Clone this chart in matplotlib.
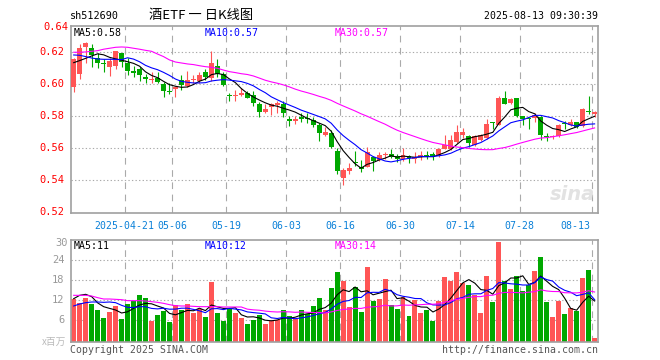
import numpy as np
import pandas as pd
import matplotlib
matplotlib.use('Agg')
import matplotlib.pyplot as plt

W, H = 660, 360

code = 'sh512690'
title = '酒ETF 一 日K线图'
timestamp = '2025-08-13 09:30:39'

holidays = ['2025-05-01', '2025-05-02', '2025-05-05', '2025-06-02']
dates = [d.strftime('%Y-%m-%d') for d in pd.bdate_range('2025-04-08', '2025-08-13')
         if d.strftime('%Y-%m-%d') not in holidays]

tick_dates = ['2025-04-21', '2025-05-06', '2025-05-19', '2025-06-03', '2025-06-16',
              '2025-06-30', '2025-07-14', '2025-07-28', '2025-08-13']
tick_labels = ['2025-04-21', '05-06', '05-19', '06-03', '06-16',
               '06-30', '07-14', '07-28', '08-13']

price_ticks = [0.52, 0.54, 0.56, 0.58, 0.60, 0.62]
price_top_label = '0.64'
vol_ticks = [6, 12, 18, 24, 30]

opens = [0.5981, 0.6062, 0.6235, 0.6225, 0.6162, 0.6129, 0.6110, 0.6116, 0.6194, 0.6131,
         0.6079, 0.6096, 0.6044, 0.6025, 0.6037, 0.6000, 0.5960, 0.5971, 0.6027, 0.5989,
         0.6027, 0.6023, 0.6079, 0.6041, 0.6114, 0.6064, 0.5929, 0.5929, 0.5935, 0.5948,
         0.5931, 0.5877, 0.5829, 0.5860, 0.5873, 0.5877, 0.5779, 0.5773, 0.5798, 0.5792,
         0.5777, 0.5746, 0.5683, 0.5694, 0.5585, 0.5415, 0.5460, 0.5514, 0.5481, 0.5485,
         0.5548, 0.5527, 0.5558, 0.5562, 0.5554, 0.5531, 0.5552, 0.5531, 0.5548, 0.5556,
         0.5566, 0.5550, 0.5596, 0.5596, 0.5642, 0.5683, 0.5677, 0.5621, 0.5652, 0.5662,
         0.5764, 0.5746, 0.5912, 0.5881, 0.5917, 0.5802, 0.5785, 0.5787, 0.5794, 0.5677,
         0.5669, 0.5677, 0.5756, 0.5746, 0.5764, 0.5740, 0.5835, 0.5815]
highs = [0.6162, 0.6252, 0.6265, 0.6252, 0.6194, 0.6156, 0.6162, 0.6210, 0.6198, 0.6162,
         0.6114, 0.6110, 0.6064, 0.6075, 0.6079, 0.6016, 0.6006, 0.5989, 0.6058, 0.6085,
         0.6058, 0.6075, 0.6096, 0.6208, 0.6156, 0.6079, 0.5944, 0.5965, 0.5975, 0.5958,
         0.5958, 0.5892, 0.5877, 0.5885, 0.5896, 0.5896, 0.5802, 0.5802, 0.5819, 0.5819,
         0.5794, 0.5756, 0.5735, 0.5715, 0.5600, 0.5479, 0.5510, 0.5585, 0.5527, 0.5606,
         0.5552, 0.5579, 0.5575, 0.5598, 0.5562, 0.5600, 0.5558, 0.5579, 0.5583, 0.5583,
         0.5579, 0.5600, 0.5683, 0.5683, 0.5746, 0.5725, 0.5683, 0.5683, 0.5690, 0.5781,
         0.5767, 0.5929, 0.5958, 0.5912, 0.5917, 0.5804, 0.5794, 0.5819, 0.5802, 0.5694,
         0.5683, 0.5752, 0.5773, 0.5785, 0.5767, 0.5850, 0.5925, 0.5833]
lows = [0.5954, 0.6031, 0.6131, 0.6110, 0.6100, 0.6079, 0.6054, 0.6094, 0.6110, 0.6058,
        0.6048, 0.6023, 0.6010, 0.6010, 0.6010, 0.5923, 0.5939, 0.5923, 0.5965, 0.5981,
        0.6006, 0.6010, 0.6027, 0.6023, 0.6048, 0.5989, 0.5896, 0.5898, 0.5927, 0.5912,
        0.5864, 0.5798, 0.5819, 0.5808, 0.5823, 0.5794, 0.5742, 0.5752, 0.5767, 0.5760,
        0.5735, 0.5646, 0.5677, 0.5600, 0.5439, 0.5371, 0.5439, 0.5490, 0.5454, 0.5481,
        0.5460, 0.5521, 0.5531, 0.5537, 0.5512, 0.5523, 0.5510, 0.5510, 0.5527, 0.5531,
        0.5527, 0.5548, 0.5594, 0.5590, 0.5631, 0.5662, 0.5606, 0.5615, 0.5646, 0.5656,
        0.5721, 0.5744, 0.5875, 0.5877, 0.5798, 0.5746, 0.5719, 0.5767, 0.5652, 0.5648,
        0.5656, 0.5673, 0.5719, 0.5740, 0.5725, 0.5735, 0.5815, 0.5798]
closes = [0.6156, 0.6225, 0.6256, 0.6183, 0.6131, 0.6125, 0.6146, 0.6208, 0.6141, 0.6085,
          0.6073, 0.6058, 0.6031, 0.6029, 0.6016, 0.5958, 0.5954, 0.5981, 0.5996, 0.6027,
          0.6033, 0.6058, 0.6048, 0.6135, 0.6064, 0.5996, 0.5925, 0.5933, 0.5948, 0.5917,
          0.5881, 0.5829, 0.5846, 0.5877, 0.5881, 0.5819, 0.5773, 0.5781, 0.5781, 0.5785,
          0.5746, 0.5694, 0.5704, 0.5606, 0.5460, 0.5464, 0.5479, 0.5508, 0.5469, 0.5579,
          0.5521, 0.5558, 0.5565, 0.5548, 0.5531, 0.5556, 0.5537, 0.5548, 0.5558, 0.5548,
          0.5546, 0.5598, 0.5621, 0.5652, 0.5704, 0.5700, 0.5631, 0.5677, 0.5683, 0.5752,
          0.5756, 0.5912, 0.5877, 0.5906, 0.5802, 0.5781, 0.5781, 0.5808, 0.5683, 0.5669,
          0.5677, 0.5746, 0.5750, 0.5762, 0.5735, 0.5846, 0.5829, 0.5829]
volumes = [12.3, 11.0, 12.6, 10.8, 9.0, 6.6, 8.4, 10.2, 6.3, 10.8,
           11.7, 13.5, 12.6, 5.7, 7.5, 8.7, 5.4, 10.5, 9.0, 10.8,
           8.1, 9.3, 6.9, 17.4, 8.1, 5.7, 9.3, 8.1, 6.6, 4.8,
           6.0, 7.5, 4.8, 5.7, 6.0, 9.0, 7.2, 6.3, 9.0, 7.8,
           10.2, 12.6, 9.0, 15.6, 20.4, 17.7, 9.9, 15.9, 8.4, 21.9,
           11.7, 12.3, 18.3, 10.5, 9.3, 12.9, 7.2, 12.0, 8.1, 9.0,
           5.7, 11.7, 18.9, 17.7, 20.4, 17.1, 16.5, 13.5, 8.1, 19.2,
           11.4, 29.4, 17.7, 15.3, 19.2, 14.7, 16.5, 20.7, 24.9, 11.4,
           6.9, 11.7, 7.8, 9.6, 8.7, 18.6, 21.0, 0.6]

# moving-average values for the bars whose window starts before the first shown bar
ma5_head = [0.6135, 0.6148, 0.6162, 0.6177]
ma10_head = [0.6183, 0.6181, 0.6173, 0.6164, 0.6158, 0.6156, 0.6156, 0.6156, 0.6154]
ma30_head = [0.6200, 0.6200, 0.6202, 0.6206, 0.6210, 0.6219, 0.6225, 0.6231, 0.6233, 0.6231,
             0.6225, 0.6219, 0.6212, 0.6206, 0.6189, 0.6173, 0.6152, 0.6139, 0.6133, 0.6127,
             0.6123, 0.6116, 0.6110, 0.6106, 0.6100, 0.6089, 0.6079, 0.6073, 0.6066]
vma5_head = [12.4, 13.4, 13.7, 13.0]
vma10_head = [10.2, 10.8, 11.2, 11.4, 11.4, 11.3, 11.4, 11.2, 10.4]
vma30_head = [13.4, 13.4, 13.4, 13.2, 12.7, 12.3, 12.3, 12.2, 12.1, 11.8,
              11.8, 11.8, 11.7, 11.5, 11.3, 11.0, 10.6, 10.3, 10.2, 10.2,
              10.1, 10.0, 10.0, 10.0, 10.0, 9.9, 9.9, 9.9, 9.9]


def moving_avg(vals, n, head):
    vals = np.asarray(vals, dtype=float)
    out = np.empty(len(vals))
    out[:n - 1] = head
    for i in range(n - 1, len(vals)):
        out[i] = vals[i - n + 1:i + 1].mean()
    return out


o = np.array(opens); h = np.array(highs); l = np.array(lows); c = np.array(closes)
v = np.array(volumes)
x = np.arange(len(dates))
ma5 = moving_avg(c, 5, ma5_head)
ma10 = moving_avg(c, 10, ma10_head)
ma30 = moving_avg(c, 30, ma30_head)
vma5 = moving_avg(v, 5, vma5_head)
vma10 = moving_avg(v, 10, vma10_head)
vma30 = moving_avg(v, 30, vma30_head)

RED = '#ff5555'
GREEN = '#00a800'
GRID = '#aaaaaa'
FRAME = '#a0a0a0'
MONO = 'DejaVu Sans Mono'
LW = 0.8

up = c >= o
colors = np.where(up, RED, GREEN)

fig = plt.figure(figsize=(W / 100, H / 100), dpi=100)
fig.patch.set_facecolor('white')


def rect(left, top, right, bottom):
    return [left / W, 1 - bottom / H, (right - left) / W, (bottom - top) / H]


def fx(px):
    return px / W


def fy(py):
    return 1 - py / H


# ---------- price panel ----------
ax = fig.add_axes(rect(70.7, 26, 597.6, 213))
ylo, yhi = 0.5196, 0.6364
ax.set_xlim(-0.5, len(dates) - 0.5)
ax.set_ylim(ylo, yhi)

tick_pos = [dates.index(d) - 0.5 for d in tick_dates]
for tp in tick_pos:
    ax.axvline(tp, color=GRID, lw=LW, ls=(0, (6, 5)), zorder=0)
for pt in price_ticks[1:]:
    ax.axhline(pt, color=GRID, lw=LW, ls=(0, (1.2, 2)), zorder=0)

ax.vlines(x, l, h, colors=colors, lw=LW, zorder=2)
body_bottom = np.minimum(o, c)
body_h = np.maximum(np.abs(c - o), 0.0007)
ax.bar(x, body_h, bottom=body_bottom, width=0.83, color=colors, lw=0, zorder=3)

ax.plot(x, ma5, color='black', lw=LW, zorder=4)
ax.plot(x, ma10, color='#0000ff', lw=LW, zorder=4)
ax.plot(x, ma30, color='#ff00ff', lw=LW, zorder=4)

ax.set_xticks([]); ax.set_yticks([])
for s in ax.spines.values():
    s.set_color(FRAME); s.set_linewidth(1.2)

for pt in price_ticks:
    ax.text(-0.012, pt, f'{pt:.2f}', transform=ax.get_yaxis_transform(), ha='right',
            va='center', color='#ff0000', fontsize=7.5, family=MONO)
fig.text(fx(68), fy(27), price_top_label, ha='right', va='center', color='#ff0000',
         fontsize=7.5, family=MONO)


def trunc(val, nd):
    f = 10 ** nd
    return np.floor(val * f + 1e-6) / f


fig.text(fx(74), fy(33), f'MA5:{trunc(ma5[-1], 2):.2f}', color='black', fontsize=7.1,
         family=MONO, va='center')
fig.text(fx(205), fy(33), f'MA10:{trunc(ma10[-1], 2):.2f}', color='#0000ff', fontsize=7.1,
         family=MONO, va='center')
fig.text(fx(335), fy(33), f'MA30:{trunc(ma30[-1], 2):.2f}', color='#ff00ff', fontsize=7.1,
         family=MONO, va='center')

ax.text(0.995, 0.05, 'sina', transform=ax.transAxes, ha='right', va='bottom',
        color='#e2e2e2', fontsize=14, fontweight='bold', style='italic', zorder=1)

for i, (tp, lab) in enumerate(zip(tick_pos, tick_labels)):
    last = i == len(tick_pos) - 1
    ax.text(tp - 0.2 if last else tp, -0.07, lab, transform=ax.get_xaxis_transform(),
            ha='right' if last else 'center', va='center',
            color='#0a80d8', fontsize=7.1, family=MONO)

# ---------- volume panel ----------
axv = fig.add_axes(rect(70.7, 240, 597.6, 342))
vlo = -0.6
axv.set_xlim(-0.5, len(dates) - 0.5)
axv.set_ylim(vlo, 30)
for tp in tick_pos:
    axv.axvline(tp, color=GRID, lw=LW, ls=(0, (6, 5)), zorder=0)
for vt in vol_ticks[:-1]:
    axv.axhline(vt, color=GRID, lw=LW, ls=(0, (1.2, 2)), zorder=0)
axv.bar(x, v - vlo, bottom=vlo, width=0.83, color=colors, lw=0, zorder=2)
axv.plot(x, vma5, color='black', lw=LW, zorder=4)
axv.plot(x, vma10, color='#0000ff', lw=LW, zorder=4)
axv.plot(x, vma30, color='#ff00ff', lw=LW, zorder=4)
axv.set_xticks([]); axv.set_yticks([])
for s in axv.spines.values():
    s.set_color(FRAME); s.set_linewidth(1.2)

for vt in vol_ticks[:-1]:
    axv.text(-0.012, vt, f'{vt}', transform=axv.get_yaxis_transform(), ha='right',
             va='center', color='#999999', fontsize=7.5, family=MONO)
fig.text(fx(68), fy(243), f'{vol_ticks[-1]}', ha='right', va='center', color='#999999',
         fontsize=7.5, family=MONO)
fig.text(fx(66), fy(342), 'x百万', ha='right', va='center', color='#bbbbbb', fontsize=7,
         family=['Noto Sans CJK SC', 'DejaVu Sans'])

fig.text(fx(74), fy(246), f'MA5:{int(trunc(vma5[-1], 0))}', color='black', fontsize=7.1,
         family=MONO, va='center')
fig.text(fx(205), fy(246), f'MA10:{int(trunc(vma10[-1], 0))}', color='#0000ff', fontsize=7.1,
         family=MONO, va='center')
fig.text(fx(335), fy(246), f'MA30:{int(trunc(vma30[-1], 0))}', color='#ff00ff', fontsize=7.1,
         family=MONO, va='center')

# ---------- header / footer ----------
fig.text(fx(70), fy(16), code, fontsize=7.3, family=MONO, va='center', color='black')
fig.text(fx(149), fy(15), title, fontsize=9.5, va='center', color='black',
         family=['Noto Sans CJK SC', 'DejaVu Sans'])
fig.text(fx(597.6), fy(16), timestamp, fontsize=7.1, family=MONO, va='center', ha='right',
         color='black')
fig.text(fx(70), fy(350), 'Copyright 2025 SINA.COM', fontsize=7.1, family=MONO, va='center',
         color='#555555')
fig.text(fx(597.6), fy(350), 'http://finance.sina.com.cn', fontsize=7.1, family=MONO,
         va='center', ha='right', color='#555555')

fig.savefig('out.png', dpi=100, facecolor='white')
